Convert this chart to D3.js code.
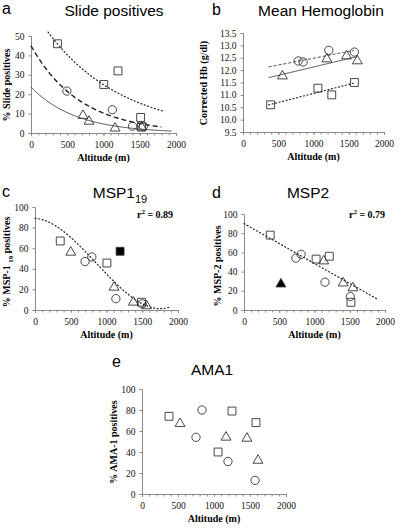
<!DOCTYPE html>
<html><head><meta charset="utf-8">
<script src="https://cdn.jsdelivr.net/npm/d3@7"></script>
<style>body{margin:0;background:#fff}</style>
</head><body>
<svg id="chart" width="405" height="529"></svg>
<script>
// ---------- DATA ----------
const altTickLabels = [0, 500, 1000, 1500, 2000];
const altMinorTicks = d3.range(0, 2001, 100);

// Panel a: Slide positives (%)
const aSquares   = [[365,46],[1004,25],[1200,32],[1512,8],[1525,3]];
const aCircles   = [[495,21.6],[1121,12],[1400,3.5],[1550,3.5]];
const aTriangles = [[717,9],[800,6],[1160,2.5],[1525,3]];
// exponential trend fits: [coef, rate, altStart, altEnd]
const aFitSquares   = [65.2, 0.000962, 235, 1850];
const aFitCircles   = [45, 0.00148, 0, 1800];
const aFitTriangles = [23.7, 0.00163, 0, 1940];
const aTicks = [0,10,20,30,40,50];

// Panel b: Mean Hemoglobin (g/dl)
const bCircles   = [[783,12.37],[853,12.33],[1217,12.8],[1580,12.73]];
const bTriangles = [[559,11.76],[1189,12.45],[1468,12.57],[1622,12.37]];
const bSquares   = [[392,10.6],[1063,11.27],[1259,11.0],[1580,11.5]];
// linear fits: [intercept, slope, altStart, altEnd]
const bFitCircles   = [11.93, 0.000551, 364, 1580];
const bFitTriangles = [11.45, 0.000677, 364, 1620];
const bFitSquares   = [10.33, 0.000728, 364, 1600];
const bTicks = [9.5,10.0,10.5,11.0,11.5,12.0,12.5,13.0,13.5];

// Panel c: MSP1-19 positives (%)
const cSquares   = [[353,67],[1006,45.6],[1490,7.6]];
const cFilledSquares = [[1190,57]];
const cTriangles = [[500,56],[1106,22],[1375,7.5],[1560,4]];
const cCircles   = [[700,47],[795,51.5],[1131,11],[1500,6]];
// cubic fit in t = alt/1000: coefficients [c0,c1,c2,c3], range
const cFit = [89, -4.67, -80.4, 31.1];
const cFitRange = [0, 1900];
const cR2 = "0.89";

// Panel d: MSP2 positives (%)
const dSquares   = [[372,78],[1023,53],[1210,56],[1517,8]];
const dCircles   = [[736,54],[810,58],[1149,29],[1508,14]];
const dTriangles = [[1131,51],[1407,28],[1545,23]];
const dFilledTriangles = [[524,27]];
const dFit = [90, -0.0416, 0, 1900];
const dR2 = "0.79";

// Panel e: AMA1 positives (%)
const eSquares   = [[375,74],[1056,40],[1250,79],[1583,68]];
const eCircles   = [[750,54],[833,80],[1194,31],[1570,13]];
const eTriangles = [[528,67],[1167,54],[1458,53],[1611,32]];
const pctTicks = [0,20,40,60,80,100];

// ---------- DRAWING ----------
const svg = d3.select("#chart");
const SERIF = "'Liberation Serif','Times New Roman',serif";
const SANS = "'Liberation Sans',Arial,sans-serif";
const AX = "#8a8a8a";

function panel(o) {
  const g = svg.append("g");
  const x = d3.scaleLinear().domain([0, 2000]).range([o.x0, o.x1]);
  const y = d3.scaleLinear().domain(o.yDom).range([o.yb, o.yt]);

  // x minor ticks
  const xm = g.append("g").attr("transform", `translate(0,${o.yb})`)
    .call(d3.axisBottom(x).tickValues(altMinorTicks).tickSize(2.5).tickFormat(""));
  // x labels
  const xl = g.append("g").attr("transform", `translate(0,${o.yb})`)
    .call(d3.axisBottom(x).tickValues(altTickLabels).tickSize(2.5).tickPadding(o.xPad || 6).tickFormat(d3.format("d")));
  // y axis
  const yl = g.append("g").attr("transform", `translate(${o.x0},0)`)
    .call(d3.axisLeft(y).tickValues(o.yTicks).tickSize(2.5).tickPadding(4).tickFormat(o.yFmt || d3.format("d")));
  [xm, xl, yl].forEach(a => {
    a.selectAll("path,line").attr("stroke", AX).attr("stroke-width", 1);
    a.selectAll("text").attr("font-family", SERIF).attr("font-size", 9.5).attr("fill", "#111");
  });

  // x title
  g.append("text").attr("x", (o.x0 + o.x1) / 2).attr("y", o.yb + 28)
    .attr("text-anchor", "middle").attr("font-family", SERIF).attr("font-weight", "bold")
    .attr("font-size", 10).text("Altitude (m)");
  // y title
  const yt = g.append("text").attr("transform", `translate(${o.ylx},${o.yly}) rotate(-90)`)
    .attr("text-anchor", "middle").attr("font-family", SERIF).attr("font-weight", "bold")
    .attr("font-size", 10);
  o.yTitle.forEach(p => {
    const ts = yt.append("tspan").text(p.t);
    if (p.sub) ts.attr("font-size", 7).attr("dy", 3);
    if (p.back) ts.attr("dy", -3);
  });
  // panel letter
  g.append("text").attr("x", o.lx).attr("y", o.ly).attr("font-family", SANS)
    .attr("font-size", 16).text(o.letter);
  // title
  const tt = g.append("text").attr("x", o.tx).attr("y", o.ty).attr("text-anchor", "middle")
    .attr("font-family", SANS).attr("font-size", 15.5);
  o.title.forEach(p => {
    const ts = tt.append("tspan").text(p.t);
    if (p.sub) ts.attr("font-size", 11).attr("dy", 5);
  });
  return {g, x, y};
}

function drawCurve(P, fn, range, dash, width) {
  const pts = d3.range(range[0], range[1] + 0.1, 10).map(a => [a, fn(a)]);
  P.g.append("path").datum(pts)
    .attr("d", d3.line().x(d => P.x(d[0])).y(d => P.y(d[1])))
    .attr("fill", "none").attr("stroke", "#222").attr("stroke-width", width || 1.1)
    .attr("stroke-dasharray", dash || null).attr("stroke-linecap", dash === "1,2.6" ? "round" : "butt");
}

const SYM = {
  square: d3.symbol().type(d3.symbolSquare).size(62),
  circle: d3.symbol().type(d3.symbolCircle).size(54),
  triangle: d3.symbol().type(d3.symbolTriangle).size(42)
};
function drawPts(P, data, kind, filled) {
  P.g.selectAll(null).data(data).enter().append("path")
    .attr("transform", d => `translate(${P.x(d[0])},${P.y(d[1])})`)
    .attr("d", SYM[kind])
    .attr("fill", filled ? "#000" : "none")
    .attr("stroke", "#333").attr("stroke-width", 0.9);
}

// Panel a
const A = panel({x0:31, x1:176, yb:133, yt:36, yDom:[0,50], yTicks:aTicks,
  ylx:10, yly:85, yTitle:[{t:"% Slide positives"}], letter:"a", lx:2, ly:14,
  title:[{t:"Slide positives"}], tx:114, ty:16});
drawCurve(A, a => aFitSquares[0]*Math.exp(-aFitSquares[1]*a), aFitSquares.slice(2), "1,2.6", 1.2);
drawCurve(A, a => aFitCircles[0]*Math.exp(-aFitCircles[1]*a), aFitCircles.slice(2), "5,3", 1.4);
drawCurve(A, a => aFitTriangles[0]*Math.exp(-aFitTriangles[1]*a), aFitTriangles.slice(2), null, 0.8);
drawPts(A, aSquares, "square"); drawPts(A, aCircles, "circle"); drawPts(A, aTriangles, "triangle");

// Panel b
const B = panel({x0:243, x1:384, yb:132, yt:33, yDom:[9.5,13.5], yTicks:bTicks, yFmt:d3.format(".1f"),
  ylx:207, yly:83, yTitle:[{t:"Corrected Hb (g/dl)"}], letter:"b", lx:212, ly:15,
  title:[{t:"Mean Hemoglobin"}], tx:321, ty:16});
drawCurve(B, a => bFitCircles[0] + bFitCircles[1]*a, bFitCircles.slice(2), "3,2", 0.9);
drawCurve(B, a => bFitTriangles[0] + bFitTriangles[1]*a, bFitTriangles.slice(2), null, 0.8);
drawCurve(B, a => bFitSquares[0] + bFitSquares[1]*a, bFitSquares.slice(2), "1,2.6", 1.2);
drawPts(B, bCircles, "circle"); drawPts(B, bTriangles, "triangle"); drawPts(B, bSquares, "square");

// Panel c
const C = panel({x0:35, x1:178, yb:310, yt:207, yDom:[0,100], yTicks:pctTicks,
  ylx:10, yly:262, yTitle:[{t:"% MSP-1 "},{t:"19",sub:true},{t:" positives",back:true}], letter:"c", lx:2, ly:197,
  title:[{t:"MSP1"},{t:"19",sub:true}], tx:120, ty:198});
drawCurve(C, a => { const t = a/1000; return cFit[0] + cFit[1]*t + cFit[2]*t*t + cFit[3]*t*t*t; }, cFitRange, "1,2.6", 1.2);
drawPts(C, cSquares, "square"); drawPts(C, cFilledSquares, "square", true);
drawPts(C, cTriangles, "triangle"); drawPts(C, cCircles, "circle");
C.g.append("text").attr("x", 155).attr("y", 218).attr("text-anchor","middle")
  .attr("font-family", SERIF).attr("font-weight","bold").attr("font-size",10)
  .call(t => { t.append("tspan").text("r"); t.append("tspan").attr("font-size",7).attr("dy",-4).text("2");
               t.append("tspan").attr("dy",4).text(" = " + cR2); });

// Panel d
const D = panel({x0:244, x1:385, yb:310, yt:214, yDom:[0,100], yTicks:pctTicks,
  ylx:221, yly:266, yTitle:[{t:"% MSP-2 positives"}], letter:"d", lx:212, ly:198,
  title:[{t:"MSP2"}], tx:308, ty:198});
drawCurve(D, a => dFit[0] + dFit[1]*a, dFit.slice(2), "1,2.6", 1.2);
drawPts(D, dSquares, "square"); drawPts(D, dCircles, "circle");
drawPts(D, dTriangles, "triangle"); drawPts(D, dFilledTriangles, "triangle", true);
D.g.append("text").attr("x", 367).attr("y", 218).attr("text-anchor","middle")
  .attr("font-family", SERIF).attr("font-weight","bold").attr("font-size",10)
  .call(t => { t.append("tspan").text("r"); t.append("tspan").attr("font-size",7).attr("dy",-4).text("2");
               t.append("tspan").attr("dy",4).text(" = " + dR2); });

// Panel e
const E = panel({x0:142, x1:286, yb:494, yt:389, yDom:[0,100], yTicks:pctTicks,
  ylx:117, yly:442, yTitle:[{t:"% AMA-1 positives"}], letter:"e", lx:112, ly:367,
  title:[{t:"AMA1"}], tx:212, ty:375});
drawPts(E, eSquares, "square"); drawPts(E, eCircles, "circle"); drawPts(E, eTriangles, "triangle");
</script>
</body></html>
